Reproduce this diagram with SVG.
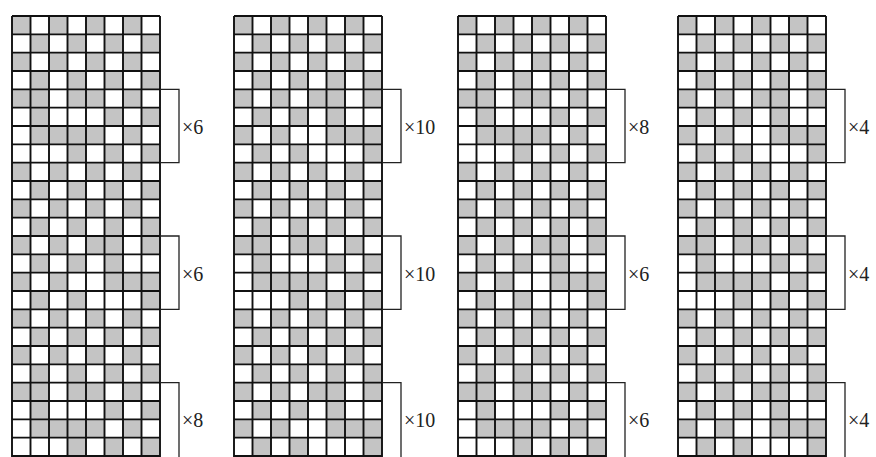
<svg xmlns="http://www.w3.org/2000/svg" xmlns:xlink="http://www.w3.org/1999/xlink" width="876" height="457" viewBox="0 0 876 457">
<style>
.g{fill:#c4c4c4}
.w{fill:#ffffff}
.grid{fill:none;stroke:#111;stroke-width:1.9}
.br{fill:none;stroke:#222;stroke-width:1.3}
.lb{font-family:"Liberation Serif",serif;font-size:20px;fill:#222}
</style>
<defs>
<pattern id="plain" patternUnits="userSpaceOnUse" width="37" height="36.6667">
<rect width="37" height="36.6667" fill="#fff"/>
<rect class="g" x="0" y="0" width="18.5" height="18.3333"/>
<rect class="g" x="18.5" y="18.3333" width="18.5" height="18.3333"/>
</pattern>
<path id="lines" class="grid" d="M0 0V441M18.5 0V441M37 0V441M55.5 0V441M74 0V441M92.5 0V441M111 0V441M129.5 0V441M148 0V441M0 0H148M0 18.333H148M0 36.667H148M0 55H148M0 73.333H148M0 91.667H148M0 110H148M0 128.333H148M0 146.667H148M0 165H148M0 183.333H148M0 201.667H148M0 220H148M0 238.333H148M0 256.667H148M0 275H148M0 293.333H148M0 311.667H148M0 330H148M0 348.333H148M0 366.667H148M0 385H148M0 403.333H148M0 421.667H148M0 440H148"/>
<g id="blockA">
<rect class="w" width="148" height="73.333"/>
<rect class="g" x="0" y="0" width="18.5" height="18.333"/><rect class="g" x="18.5" y="0" width="18.5" height="18.333"/><rect class="g" x="55.5" y="0" width="18.5" height="18.333"/><rect class="g" x="74" y="0" width="18.5" height="18.333"/><rect class="g" x="111" y="0" width="18.5" height="18.333"/>
<rect class="g" x="18.5" y="18.333" width="18.5" height="18.333"/><rect class="g" x="92.5" y="18.333" width="18.5" height="18.333"/><rect class="g" x="129.5" y="18.333" width="18.5" height="18.333"/>
<rect class="g" x="18.5" y="36.667" width="18.5" height="18.333"/><rect class="g" x="37" y="36.667" width="18.5" height="18.333"/><rect class="g" x="55.5" y="36.667" width="18.5" height="18.333"/><rect class="g" x="74" y="36.667" width="18.5" height="18.333"/><rect class="g" x="111" y="36.667" width="18.5" height="18.333"/>
<rect class="g" x="55.5" y="55" width="18.5" height="18.333"/><rect class="g" x="92.5" y="55" width="18.5" height="18.333"/><rect class="g" x="129.5" y="55" width="18.5" height="18.333"/>
</g>
<g id="blockB">
<rect class="w" width="148" height="73.333"/>
<rect class="g" x="0" y="0" width="18.5" height="18.333"/><rect class="g" x="37" y="0" width="18.5" height="18.333"/><rect class="g" x="74" y="0" width="18.5" height="18.333"/><rect class="g" x="92.5" y="0" width="18.5" height="18.333"/><rect class="g" x="129.5" y="0" width="18.5" height="18.333"/>
<rect class="g" x="18.5" y="18.333" width="18.5" height="18.333"/><rect class="g" x="55.5" y="18.333" width="18.5" height="18.333"/><rect class="g" x="92.5" y="18.333" width="18.5" height="18.333"/>
<rect class="g" x="0" y="36.667" width="18.5" height="18.333"/><rect class="g" x="37" y="36.667" width="18.5" height="18.333"/><rect class="g" x="92.5" y="36.667" width="18.5" height="18.333"/><rect class="g" x="111" y="36.667" width="18.5" height="18.333"/><rect class="g" x="129.5" y="36.667" width="18.5" height="18.333"/>
<rect class="g" x="18.5" y="55" width="18.5" height="18.333"/><rect class="g" x="55.5" y="55" width="18.5" height="18.333"/><rect class="g" x="129.5" y="55" width="18.5" height="18.333"/>
</g>
<path id="brackets" class="br" d="M148 73.333H167V146.667H148M148 220H167V293.333H148M148 366.667H167V441"/>
</defs>
<rect width="876" height="457" fill="#fff"/>

<g id="draft1" transform="translate(12,16)">
<rect width="148" height="441" fill="url(#plain)"/>
<use xlink:href="#blockA" y="73.333"/>
<use xlink:href="#blockB" y="220"/>
<use xlink:href="#blockA" y="366.667"/>
<use xlink:href="#lines"/>
<text class="lb" x="170" y="118">×6</text>
<text class="lb" x="170" y="264.7">×6</text>
<text class="lb" x="170" y="411.3">×8</text>
</g>

<g id="draft2" transform="translate(234,16)">
<rect width="148" height="441" fill="url(#plain)"/>
<use xlink:href="#blockB" y="73.333"/>
<use xlink:href="#blockA" y="220"/>
<use xlink:href="#blockB" y="366.667"/>
<use xlink:href="#lines"/>
<text class="lb" x="170" y="118">×10</text>
<text class="lb" x="170" y="264.7">×10</text>
<text class="lb" x="170" y="411.3">×10</text>
</g>

<g id="draft3" transform="translate(458,16)">
<rect width="148" height="441" fill="url(#plain)"/>
<use xlink:href="#blockA" y="73.333"/>
<use xlink:href="#blockB" y="220"/>
<use xlink:href="#blockA" y="366.667"/>
<use xlink:href="#lines"/>
<text class="lb" x="170" y="118">×8</text>
<text class="lb" x="170" y="264.7">×6</text>
<text class="lb" x="170" y="411.3">×6</text>
</g>

<g id="draft4" transform="translate(678,16)">
<rect width="148" height="441" fill="url(#plain)"/>
<use xlink:href="#blockB" y="73.333"/>
<use xlink:href="#blockA" y="220"/>
<use xlink:href="#blockB" y="366.667"/>
<use xlink:href="#lines"/>
<text class="lb" x="170" y="118">×4</text>
<text class="lb" x="170" y="264.7">×4</text>
<text class="lb" x="170" y="411.3">×4</text>
</g>

<g id="connectors">
<use xlink:href="#brackets" x="12" y="16"/>
<use xlink:href="#brackets" x="234" y="16"/>
<use xlink:href="#brackets" x="458" y="16"/>
<use xlink:href="#brackets" x="678" y="16"/>
</g>
</svg>
